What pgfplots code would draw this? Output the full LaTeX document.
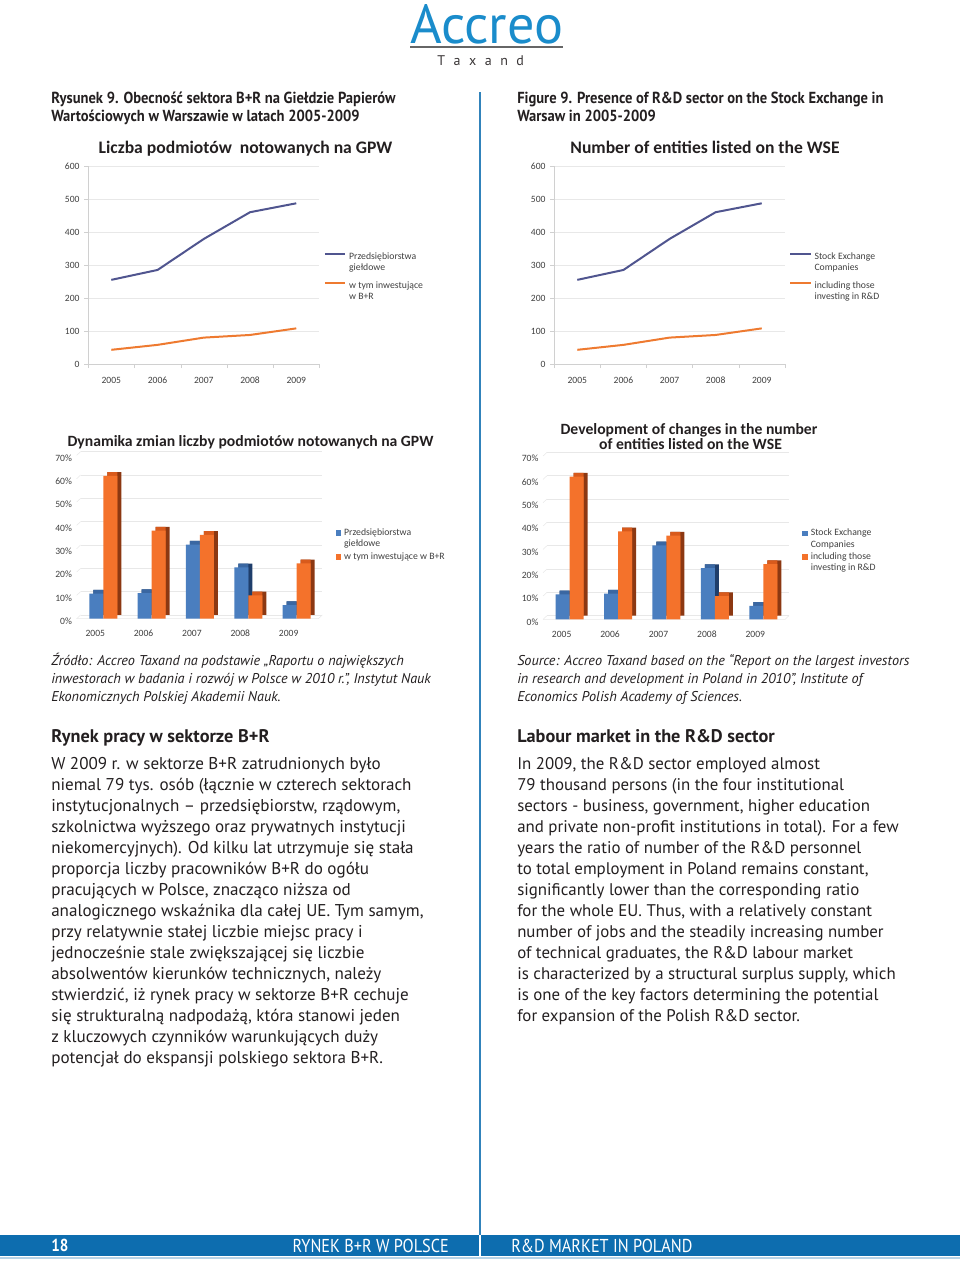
\documentclass[border=0pt]{standalone}
\usepackage{pgfplots}
\pgfplotsset{compat=1.18}
\usepackage{fontspec}
\setmainfont{PT Sans}
\newfontfamily\chartfont{Carlito}
\newfontfamily\condfont[FakeStretch=0.91]{PT Sans}
\newfontfamily\footfont[FakeStretch=0.87]{PT Sans}

\definecolor{txt}{HTML}{231F20}
\definecolor{charttxt}{HTML}{404040}
\definecolor{lineblue}{HTML}{50558F}
\definecolor{lineorange}{HTML}{EE7A30}
\definecolor{barblue}{HTML}{4A7EBF}
\definecolor{barbluetop}{HTML}{3A67A2}
\definecolor{barblueside}{HTML}{1F3E6B}
\definecolor{barorange}{HTML}{F4722B}
\definecolor{barorangetop}{HTML}{D85A1C}
\definecolor{barorangeside}{HTML}{8C3812}
\definecolor{gridgray}{HTML}{E8E8E8}
\definecolor{axisgray}{HTML}{D0D0D0}
\definecolor{logoblue}{HTML}{1A8CCB}
\definecolor{pageblue}{HTML}{0D6DAF}

\pgfplotsset{
  chartbase/.style={
    scale only axis,
    /pgf/number format/assume math mode=true,
    ticklabel style={font=\chartfont\fontsize{7.2pt}{8pt}\selectfont, text=charttxt},
    xticklabel style={text height=5pt, text depth=0pt},
    xtick={0,...,4}, xticklabels={2005,2006,2007,2008,2009},
    legend cell align=left,
    legend style={draw=none, fill=none, inner sep=0pt,
      font=\chartfont\fontsize{7.3pt}{8.3pt}\selectfont, text=charttxt,
      cells={align=left}},
  },
  linechart/.style={
    chartbase, height=148.5pt,
    xmin=-0.5, xmax=4.5, ymin=0, ymax=600,
    ytick={0,100,...,600},
    minor xtick={-0.5,0.5,...,4.5},
    axis lines*=left, axis line style={axisgray},
    tick align=outside, major tick length=3pt, minor tick length=3pt,
    tick style={axisgray},
    major x tick style={draw=none},
    ymajorgrids, major grid style={gridgray},
    xticklabel style={yshift=-3pt},
    legend style={at={(1.018,0.575)}, anchor=north west, row sep=2.75pt},
    legend image code/.code={\draw[##1] (0pt,6.6pt) -- (15.5pt,6.6pt);},
  },
  barchart/.style={
    chartbase, height=122.5pt,
    xmin=-0.55, xmax=4.45, ymin=0, ymax=70,
    ytick={0,10,...,70},
    yticklabels={0\%,10\%,20\%,30\%,40\%,50\%,60\%,70\%},
    axis line style={draw=none}, major tick length=0pt,
    ymajorgrids, major grid style={gridgray, xshift=3pt, yshift=2.8pt},
    clip=false,
    xticklabel style={xshift=-6pt, yshift=-5pt},
    yticklabel style={yshift=-2pt},
    legend style={at={(1.07,0.57)}, anchor=north west, row sep=-1pt},
  },
  sq/.style 2 args={legend image code/.code={\fill[#1] (0pt,#2-2.2pt) rectangle (4.4pt,#2+2.2pt);}},
}

\newcommand\floor{%
  \draw[gridgray] (rel axis cs:0,0) -- (rel axis cs:1,0) -- ++(3pt,2.8pt);
  \pgfplotsinvokeforeach{0,10,...,70}{\draw[gridgray] (axis cs:-0.55,##1) -- ++(3pt,2.8pt);}
}

\begin{document}
\begin{tikzpicture}
\begin{scope}[x=0.75pt,y=-0.75pt]
\path[use as bounding box] (0,0) rectangle (960,1264);

% logo
\node[anchor=base west, inner sep=0pt] at (410,43.3)
  {\resizebox{114.75pt}{29.25pt}{\color{logoblue}Accreo}};
\draw[gray!80!black, line width=1.5pt] (410,47) -- (563,47);
\node[anchor=base west, inner sep=0pt, text=txt!90, font=\fontsize{10.5pt}{12pt}\selectfont] at (437,65) {\spaceskip=6.4pt\relax T a x a n d};

% divider and footer
\draw[pageblue!85, line width=1.1pt] (480,92) -- (480,1235);
\fill[pageblue] (0,1235) rectangle (960,1256);
\draw[white, line width=1pt] (480,1235) -- (480,1256);
\draw[pageblue!30, line width=0.8pt] (0,1258) -- (960,1258);
\node[anchor=base west, inner sep=0pt, text=white, font=\footfont\bfseries\fontsize{13pt}{14pt}\selectfont] at (51,1251.5) {18};
\node[anchor=base east, inner sep=0pt, text=white, font=\footfont\fontsize{14pt}{15pt}\selectfont] at (449,1252) {RYNEK B+R W POLSCE};
\node[anchor=base west, inner sep=0pt, text=white, font=\footfont\fontsize{14pt}{15pt}\selectfont] at (511,1252) {R\&D MARKET IN POLAND};

% figure captions
\begin{scope}[every node/.style={anchor=base west, inner sep=0pt, text=txt, font=\condfont\bfseries\fontsize{12pt}{14pt}\selectfont}]
\node at (51,103) {Rysunek 9. Obecność sektora B+R na Giełdzie Papierów};
\node at (51,121) {Wartościowych w Warszawie w latach 2005-2009};
\node at (517,103) {Figure 9. Presence of R\&D sector on the Stock Exchange in};
\node at (517,121) {Warsaw in 2005-2009};
\end{scope}

% chart titles
\begin{scope}[every node/.style={anchor=base, inner sep=0pt, text=txt, font=\chartfont\bfseries\fontsize{13.2pt}{15pt}\selectfont}]
\node at (245.5,153.3) {Liczba podmiotów\ \ notowanych na GPW};
\node at (705,153.3) {Number of entities listed on the WSE};
\end{scope}
\begin{scope}[every node/.style={anchor=base, inner sep=0pt, text=txt, font=\chartfont\bfseries\fontsize{11.75pt}{14pt}\selectfont}]
\node at (250.5,446) {Dynamika zmian liczby podmiotów notowanych na GPW};
\node at (689,434) {Development of changes in the number};
\node at (690.5,449.3) {of entities listed on the WSE};
\end{scope}

% sources
\begin{scope}[every node/.style={anchor=base west, inner sep=0pt, text=txt, font=\itshape\fontsize{10.65pt}{13pt}\selectfont}]
\node at (51,665) {Źródło: Accreo Taxand na podstawie „Raportu o największych};
\node at (51,683) {inwestorach w badania i rozwój w Polsce w 2010 r.”, Instytut Nauk};
\node at (51,701) {Ekonomicznych Polskiej Akademii Nauk.};
\node at (517,665) {Source: Accreo Taxand based on the “Report on the largest investors};
\node at (517,683) {in research and development in Poland in 2010”, Institute of};
\node at (517,701) {Economics Polish Academy of Sciences.};
\end{scope}

% headings
\begin{scope}[every node/.style={anchor=base west, inner sep=0pt, text=txt, font=\bfseries\fontsize{13.7pt}{16pt}\selectfont}]
\node at (51,742.3) {Rynek pracy w sektorze B+R};
\node at (517,742.3) {Labour market in the R\&D sector};
\end{scope}

% body text
\begin{scope}[every node/.style={anchor=base west, inner sep=0pt, text=txt, font=\fontsize{12.8pt}{15pt}\selectfont}]
\node at (51,769) {W 2009 r. w sektorze B+R zatrudnionych było};
\node at (51,790) {niemal 79 tys. osób (łącznie w czterech sektorach};
\node at (51,811) {instytucjonalnych – przedsiębiorstw, rządowym,};
\node at (51,832) {szkolnictwa wyższego oraz prywatnych instytucji};
\node at (51,853) {niekomercyjnych). Od kilku lat utrzymuje się stała};
\node at (51,874) {proporcja liczby pracowników B+R do ogółu};
\node at (51,895) {pracujących w Polsce, znacząco niższa od};
\node at (51,916) {analogicznego wskaźnika dla całej UE. Tym samym,};
\node at (51,937) {przy relatywnie stałej liczbie miejsc pracy i};
\node at (51,958) {jednocześnie stale zwiększającej się liczbie};
\node at (51,979) {absolwentów kierunków technicznych, należy};
\node at (51,1000) {stwierdzić, iż rynek pracy w sektorze B+R cechuje};
\node at (51,1021) {się strukturalną nadpodażą, która stanowi jeden};
\node at (51,1042) {z kluczowych czynników warunkujących duży};
\node at (51,1063) {potencjał do ekspansji polskiego sektora B+R.};
\end{scope}
\begin{scope}[every node/.style={anchor=base west, inner sep=0pt, text=txt, font=\fontsize{12.65pt}{15pt}\selectfont}]
\node at (517,769) {In 2009, the R\&D sector employed almost};
\node at (517,790) {79 thousand persons (in the four institutional};
\node at (517,811) {sectors - business, government, higher education};
\node at (517,832) {and private non-profit institutions in total). For a few};
\node at (517,853) {years the ratio of number of the R\&D personnel};
\node at (517,874) {to total employment in Poland remains constant,};
\node at (517,895) {significantly lower than the corresponding ratio};
\node at (517,916) {for the whole EU. Thus, with a relatively constant};
\node at (517,937) {number of jobs and the steadily increasing number};
\node at (517,958) {of technical graduates, the R\&D labour market};
\node at (517,979) {is characterized by a structural surplus supply, which};
\node at (517,1000) {is one of the key factors determining the potential};
\node at (517,1021) {for expansion of the Polish R\&D sector.};
\end{scope}
\end{scope}

% ---- line chart, Polish
\begin{axis}[linechart, at={(66.15pt,-273pt)}, anchor=south west, width=173.4pt]
\addplot[lineblue, line width=1.5pt] coordinates {(0,255) (1,285) (2,379) (3,460) (4,487)};
\addlegendentry{Przedsiębiorstwa\\giełdowe}
\addplot[lineorange, line width=1.5pt] coordinates {(0,43) (1,58) (2,80) (3,88) (4,108)};
\addlegendentry{w tym inwestujące\\w B+R}
\end{axis}

% ---- line chart, English
\begin{axis}[linechart, at={(415.7pt,-273pt)}, anchor=south west, width=172.9pt]
\addplot[lineblue, line width=1.5pt] coordinates {(0,255) (1,285) (2,379) (3,460) (4,487)};
\addlegendentry{Stock Exchange\\Companies}
\addplot[lineorange, line width=1.5pt] coordinates {(0,43) (1,58) (2,80) (3,88) (4,108)};
\addlegendentry{including those\\investing in R\&D}
\end{axis}

% ---- bar charts
\pgfplotstableread{
x blue orange
0 10.7 61.2
1 11.0 37.7
2 31.7 35.9
3 22.0 10.0
4 5.8  23.7
}\dyn

\begin{axis}[barchart, at={(57.5pt,-464pt)}, anchor=south west, width=181.3pt]
\floor
\addplot[ybar, draw=none, fill=barblueside, bar width=10.5pt, bar shift=-5.25pt, xshift=3pt, yshift=2.8pt, forget plot] table[x=x,y=blue] {\dyn};
\addplot[ybar, draw=none, fill=barbluetop, bar width=7.5pt, bar shift=-3.75pt, yshift=2.8pt, forget plot] table[x=x,y=blue] {\dyn};
\addplot[ybar, draw=none, fill=barblue, bar width=10.5pt, bar shift=-5.25pt, sq={barblue}{4.2pt}] table[x=x,y=blue] {\dyn};
\addlegendentry{Przedsiębiorstwa\\giełdowe}
\addplot[ybar, draw=none, fill=barorangeside, bar width=10.5pt, bar shift=5.25pt, xshift=3pt, yshift=2.8pt, forget plot] table[x=x,y=orange] {\dyn};
\addplot[ybar, draw=none, fill=barorangetop, bar width=7.5pt, bar shift=6.75pt, yshift=2.8pt, forget plot] table[x=x,y=orange] {\dyn};
\addplot[ybar, draw=none, fill=barorange, bar width=10.5pt, bar shift=5.25pt, sq={barorange}{0pt}] table[x=x,y=orange] {\dyn};
\addlegendentry{w tym inwestujące w B+R}
\end{axis}

\begin{axis}[barchart, at={(407.3pt,-464.5pt)}, anchor=south west, width=181.5pt]
\floor
\addplot[ybar, draw=none, fill=barblueside, bar width=10.5pt, bar shift=-5.25pt, xshift=3pt, yshift=2.8pt, forget plot] table[x=x,y=blue] {\dyn};
\addplot[ybar, draw=none, fill=barbluetop, bar width=7.5pt, bar shift=-3.75pt, yshift=2.8pt, forget plot] table[x=x,y=blue] {\dyn};
\addplot[ybar, draw=none, fill=barblue, bar width=10.5pt, bar shift=-5.25pt, sq={barblue}{4.2pt}] table[x=x,y=blue] {\dyn};
\addlegendentry{Stock Exchange\\Companies}
\addplot[ybar, draw=none, fill=barorangeside, bar width=10.5pt, bar shift=5.25pt, xshift=3pt, yshift=2.8pt, forget plot] table[x=x,y=orange] {\dyn};
\addplot[ybar, draw=none, fill=barorangetop, bar width=7.5pt, bar shift=6.75pt, yshift=2.8pt, forget plot] table[x=x,y=orange] {\dyn};
\addplot[ybar, draw=none, fill=barorange, bar width=10.5pt, bar shift=5.25pt, sq={barorange}{4.2pt}] table[x=x,y=orange] {\dyn};
\addlegendentry{including those\\investing in R\&D}
\end{axis}
\end{tikzpicture}
\end{document}
